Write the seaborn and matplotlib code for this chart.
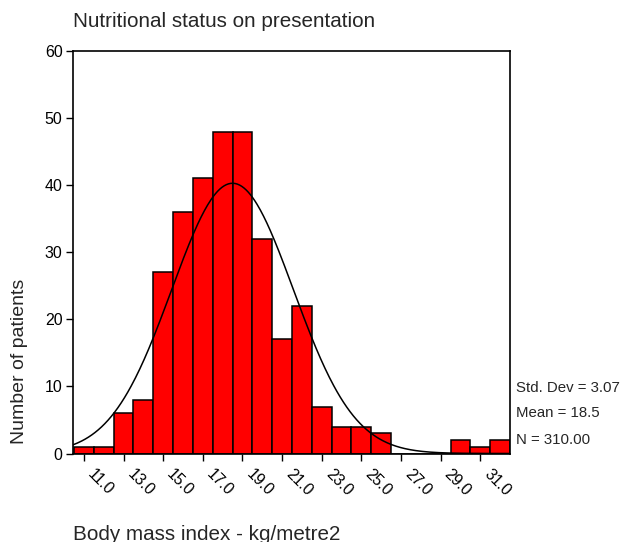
import numpy as np
import matplotlib
matplotlib.use("Agg")
import matplotlib.pyplot as plt
import matplotlib.transforms as mtransforms
import seaborn as sns

# ---- data ----
bmi_centers = [11, 12, 13, 14, 15, 16, 17, 18, 19, 20, 21, 22,
               23, 24, 25, 26, 27, 28, 29, 30, 31, 32]
patient_counts = [1, 1, 6, 8, 27, 36, 41, 48, 48, 32, 17, 22,
                  7, 4, 4, 3, 0, 0, 0, 2, 1, 2]
x_tick_values = [11, 13, 15, 17, 19, 21, 23, 25, 27, 29, 31]
x_tick_labels = ["11.0", "13.0", "15.0", "17.0", "19.0", "21.0",
                 "23.0", "25.0", "27.0", "29.0", "31.0"]
y_tick_values = [0, 10, 20, 30, 40, 50, 60]
std_dev = 3.07
mean_val = 18.5
n_total = 310.00

sns.set_style("white")
plt.rcParams['font.family'] = ['Liberation Sans', 'DejaVu Sans']

W, H = 631, 542
fig = plt.figure(figsize=(W / 100, H / 100), dpi=100)
left, right, top, bottom = 73, 510, 51, 453.5
ax = fig.add_axes([left / W, 1 - bottom / H, (right - left) / W, (bottom - top) / H])

sns.histplot(x=bmi_centers, weights=patient_counts, discrete=True,
             color="#ff0000", edgecolor="black", linewidth=1.1, alpha=1,
             ax=ax, zorder=2)

# fitted normal curve from the stated statistics
xs = np.linspace(10.45, 32.5, 400)
ys = n_total * 1.0 / (std_dev * np.sqrt(2 * np.pi)) * np.exp(-0.5 * ((xs - mean_val) / std_dev) ** 2)
ax.plot(xs, ys, color="black", linewidth=1.1, zorder=3)

ax.set_xlim(10.45, 32.5)
ax.set_ylim(0, 60)
ax.set_xticks(x_tick_values)
ax.set_xticklabels(x_tick_labels, rotation=-45, ha="left", va="center",
                   rotation_mode="anchor", fontsize=11.3)
ax.set_yticks(y_tick_values)
ax.set_yticklabels([str(v) for v in y_tick_values], fontsize=11.5)
ax.set_xlabel("")
ax.set_ylabel("")

for s in ax.spines.values():
    s.set_visible(True)
    s.set_color("black")
    s.set_linewidth(1.2)
ax.tick_params(axis="both", direction="out", length=5, width=1, color="black",
               labelcolor="black", pad=2.5)
ax.tick_params(axis="x", bottom=True, top=False)
ax.tick_params(axis="y", left=True, right=False)

offset = mtransforms.ScaledTranslation(4.5 / 72, -5.5 / 72, fig.dpi_scale_trans)
for lbl in ax.get_xticklabels():
    lbl.set_transform(lbl.get_transform() + offset)

def fy(px):
    return 1 - px / H

fig.text(73 / W, fy(27), "Nutritional status on presentation", fontsize=14.85,
         ha="left", va="baseline")
fig.text(73 / W, fy(539.5), "Body mass index - kg/metre2", fontsize=14.85,
         ha="left", va="baseline")
fig.text(19.5 / W, fy(361), "Number of patients", fontsize=14, rotation=90,
         ha="center", va="center")

fig.text(516 / W, fy(388.5), f"Std. Dev = {std_dev:.2f}", fontsize=10.8, ha="left", va="center")
fig.text(516 / W, fy(413), f"Mean = {mean_val:.1f}", fontsize=10.8, ha="left", va="center")
fig.text(516 / W, fy(440.5), f"N = {n_total:.2f}", fontsize=10.8, ha="left", va="center")

fig.savefig("out.png", dpi=100)
